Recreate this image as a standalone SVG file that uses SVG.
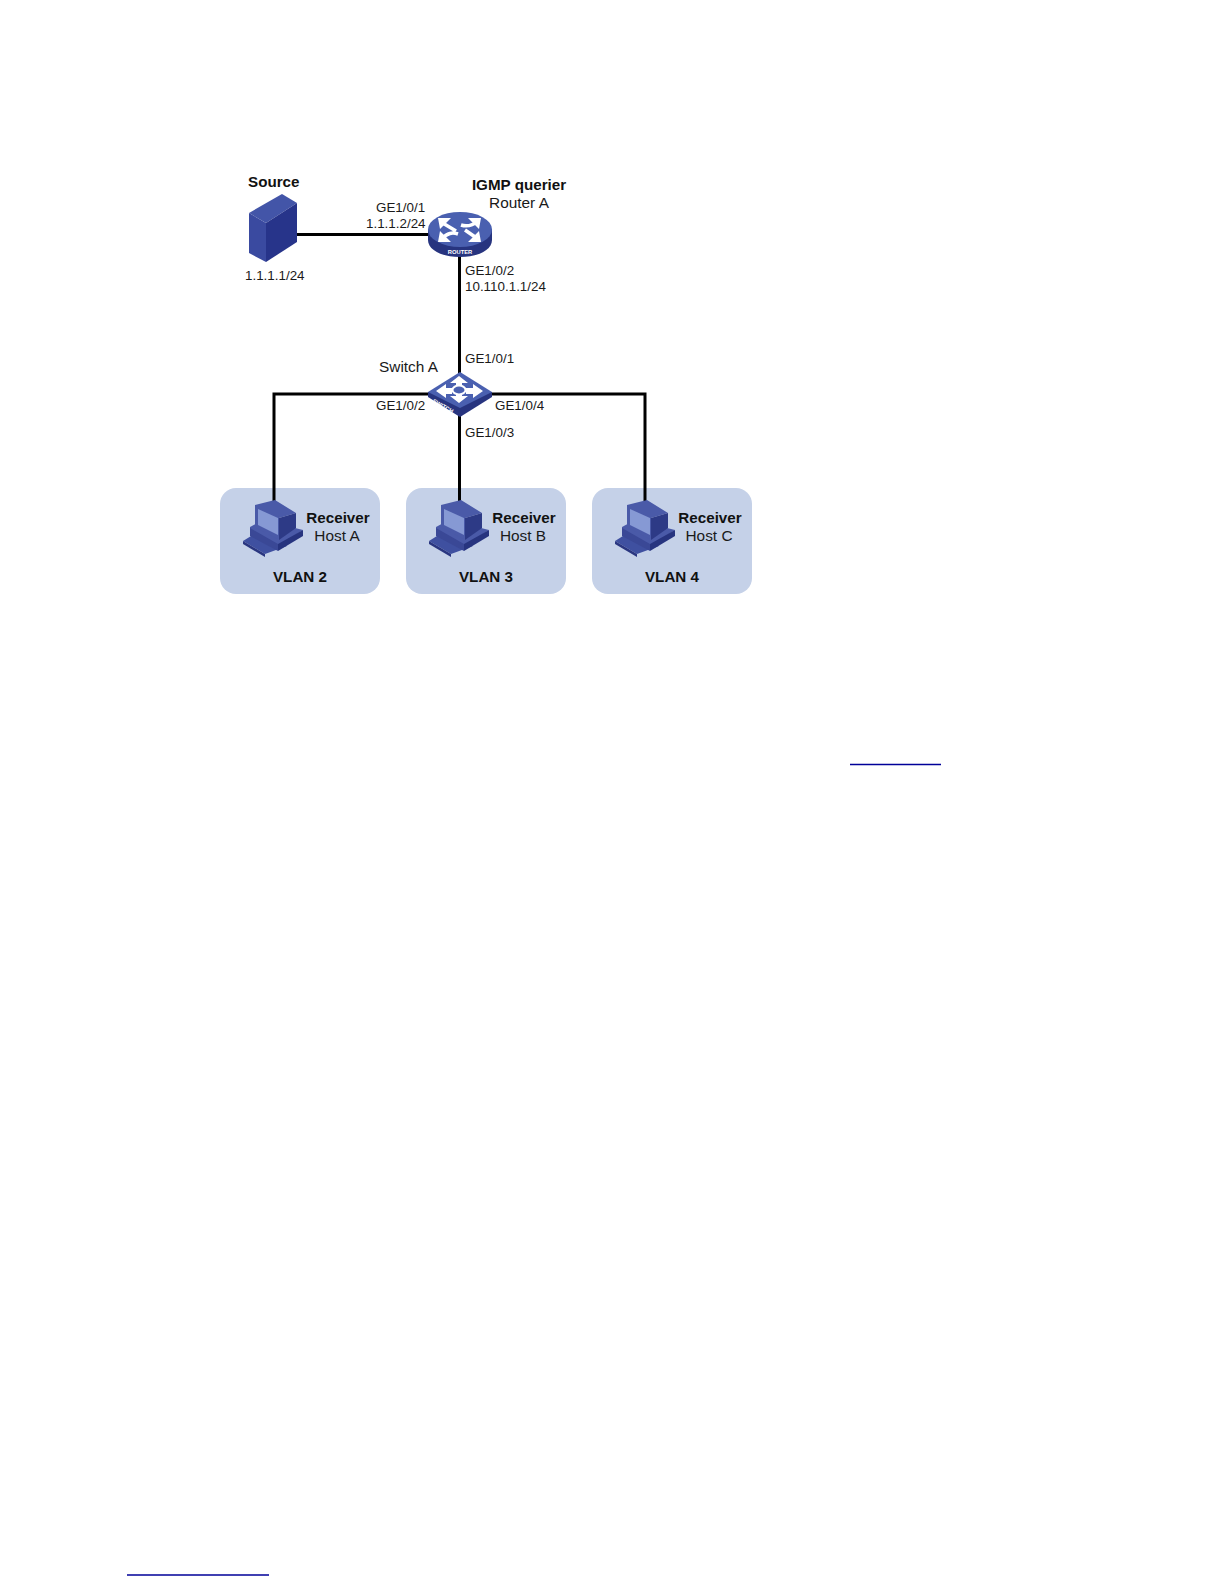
<svg xmlns="http://www.w3.org/2000/svg" width="1224" height="1584" viewBox="0 0 1224 1584">
<style>
text{font-family:"Liberation Sans",Arial,sans-serif;font-size:13.4px;fill:#1a1a1a}
.d{font-size:15.4px}
.b{font-weight:bold;font-size:15.2px;fill:#111}
.m{text-anchor:middle}
.c{stroke:#000;stroke-width:3;fill:none}
.v{fill:#c5d1e8}
.l{stroke:#000099;stroke-width:1.5}
.a{stroke:#fff;stroke-width:3.500;fill:none}
.h{fill:#fff}
.t{font-size:5.8px;font-weight:bold;fill:#fff}
</style>
<defs>
<g id="pc">
<path d="M243 541L259 531L287 546L265 554Z" fill="#3f50a0"/>
<path d="M243 541L265 554V557L243 544Z" fill="#2a3680"/>
<path d="M250 527L263 520L303 530L278 547L250 530Z" fill="#4a5aa8"/>
<path d="M250 528L278 544V551L250 536Z" fill="#3a4896"/>
<path d="M278 544L303 530V536L278 551Z" fill="#27347f"/>
<path d="M255 505L275 500L296 513L279 518V540L255 527Z" fill="#4a5aa8"/>
<path d="M279 518L296 513V528L279 540Z" fill="#2d3a86"/>
<path d="M258 509L278 518V535L258 525Z" fill="#8699d4"/>
</g>
</defs>
<g id="vlan2-area"><rect class="v" x="220" y="488" width="160" height="106" rx="16"/></g>
<g id="vlan3-area"><rect class="v" x="406" y="488" width="160" height="106" rx="16"/></g>
<g id="vlan4-area"><rect class="v" x="592" y="488" width="160" height="106" rx="16"/></g>
<g id="connectors">
<path class="c" d="M297 234.500H430"/>
<path class="c" d="M459.500 255V375"/>
<path class="c" d="M274 503V394H645V503"/>
<path class="c" d="M459.500 415V503"/>
</g>
<g id="source">
<path d="M249 213L282 194L297 203L266 223Z" fill="#4355a8"/>
<path d="M249 213L266 223V262L249 253Z" fill="#3a4aa0"/>
<path d="M266 223L297 203V242L266 262Z" fill="#27348a"/>
<text class="b" x="248" y="187">Source</text>
<text x="245" y="280">1.1.1.1/24</text>
</g>
<g id="routerA">
<path d="M428 229V240C428 250 442 257 460 257C478 257 492 250 492 240V229Z" fill="#27347f"/>
<ellipse cx="460" cy="229.500" rx="32" ry="17.500" fill="#4a60b0"/>
<path class="a" d="M441 222L456 231M478 221C472 226 467 227 461 225M441 239C448 233 452 232 458 234M478 239L465 230"/>
<path class="h" d="M438 218H451L440 229ZM481 218H468L479 229ZM438 242H451L440 231ZM481 242H468L479 231Z"/>
<text x="460" y="254" class="m t">ROUTER</text>
<text class="b m" x="519" y="190">IGMP querier</text>
<text class="d m" x="519" y="208">Router A</text>
<text x="376" y="212">GE1/0/1</text>
<text x="366" y="228">1.1.1.2/24</text>
<text x="465" y="275">GE1/0/2</text>
<text x="465" y="291">10.110.1.1/24</text>
</g>
<g id="switchA">
<path d="M428 392V397L460 417L492 397V392Z" fill="#27347f"/>
<path d="M460 372L492 392L460 408L428 392Z" fill="#4a60b0"/>
<path class="h" d="M459 376L468 383H462V386H456V383H450ZM459 403L468 396H462V393H456V396H450ZM436 391L446 384V388H452V394H446V398ZM483 391L473 384V388H466V394H473V398Z"/>
<ellipse cx="459" cy="390" rx="6.500" ry="4.500" fill="#4a60b0" stroke="#fff" stroke-width="2"/>
<text transform="translate(432 402) rotate(30)" class="t">SWITCH</text>
<text class="d" x="379" y="372">Switch A</text>
<text x="465" y="363">GE1/0/1</text>
<text x="376" y="410">GE1/0/2</text>
<text x="465" y="437">GE1/0/3</text>
<text x="495" y="410">GE1/0/4</text>
</g>
<g id="hostA">
<use href="#pc"/>
<text class="b m" x="338" y="523">Receiver</text>
<text class="d m" x="337" y="541">Host A</text>
<text class="b m" x="300" y="582">VLAN 2</text>
</g>
<g id="hostB">
<use href="#pc" x="186"/>
<text class="b m" x="524" y="523">Receiver</text>
<text class="d m" x="523" y="541">Host B</text>
<text class="b m" x="486" y="582">VLAN 3</text>
</g>
<g id="hostC">
<use href="#pc" x="372"/>
<text class="b m" x="710" y="523">Receiver</text>
<text class="d m" x="709" y="541">Host C</text>
<text class="b m" x="672" y="582">VLAN 4</text>
</g>
<path class="l" d="M850 764.500H941"/>
<path class="l" d="M127 1575H269"/>
</svg>
